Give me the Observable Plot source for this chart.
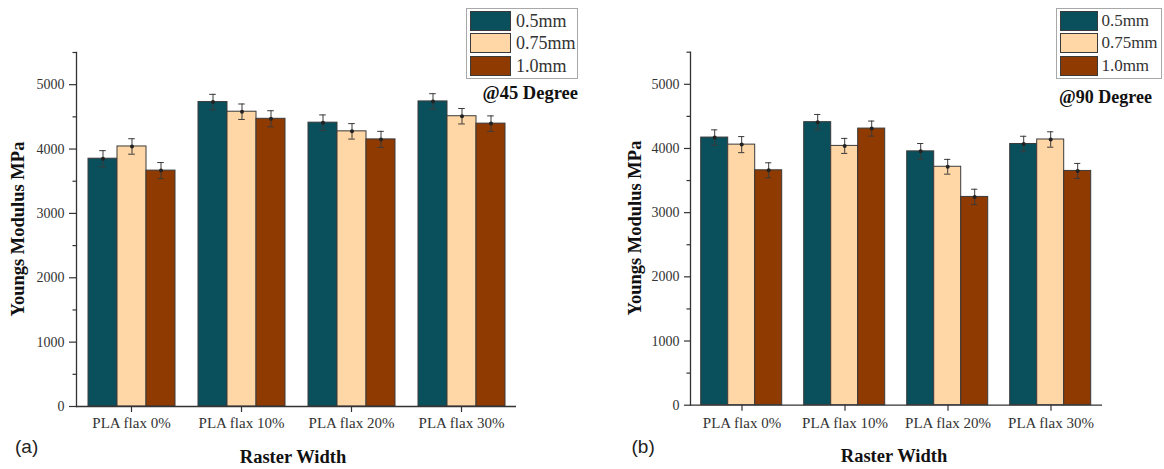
<!DOCTYPE html>
<html>
<head>
<meta charset="utf-8">
<script src="https://cdn.jsdelivr.net/npm/d3@7"></script>
<script src="https://cdn.jsdelivr.net/npm/@observablehq/plot@0.6"></script>
<style>
  body { margin: 0; background: #fff; }
  #root { position: relative; width: 1164px; height: 469px; overflow: hidden; font-family: "Liberation Serif", serif; color: #222; }
  .panel { position: absolute; top: 0; width: 582px; height: 469px; }
  .legend { position: absolute; top: 8px; height: 71px; box-sizing: border-box; border: 1px solid #a8a8a8; background: #fff; padding: 2px 0 0 3px; }
  .legend .row { display: flex; align-items: center; height: 20px; margin-bottom: 2.3px; }
  .legend .sw { height: 20px; box-sizing: border-box; border: 1px solid #3a3a3a; }
  .legend .lab { line-height: 20px; color: #333; }
  .note { position: absolute; font-weight: bold; line-height: 20px; white-space: nowrap; color: #111; }
  .ytitle { position: absolute; font-weight: bold; font-size: 18.5px; white-space: nowrap; transform: translate(-50%, -50%) rotate(-90deg); color: #111; }
  .xtitle { position: absolute; font-weight: bold; font-size: 18.5px; white-space: nowrap; transform: translate(-50%, -50%); color: #111; }
  .tag { position: absolute; font-family: "Liberation Sans", sans-serif; font-size: 19px; line-height: 20px; color: #222; transform: translateY(-50%); }
</style>
</head>
<body>
<div id="root"></div>
<script>
// Raster width groups and filament sizes
const groups = ["PLA flax 0%", "PLA flax 10%", "PLA flax 20%", "PLA flax 30%"];
const sizes = ["0.5mm", "0.75mm", "1.0mm"];
const colors = ["#0a4f5c", "#ffd6a5", "#8f3a00"];
const yTicks = [0, 1000, 2000, 3000, 4000, 5000];
const yMinorTicks = [500, 1500, 2500, 3500, 4500, 5500];

// Young's modulus (MPa) at 45 degrees: one row per group, one column per size
const modulus45 = [
  [3850, 4040, 3665],
  [4730, 4580, 4470],
  [4410, 4275, 4150],
  [4740, 4510, 4395]
];
const error45 = [
  [125, 120, 125],
  [120, 120, 125],
  [120, 120, 125],
  [120, 120, 120]
];

// Young's modulus (MPa) at 90 degrees
const modulus90 = [
  [4170, 4060, 3660],
  [4410, 4040, 4310],
  [3955, 3715, 3245],
  [4070, 4140, 3650]
];
const error90 = [
  [120, 125, 117],
  [120, 117, 117],
  [122, 115, 120],
  [120, 120, 117]
];

function toRows(values, errors) {
  return groups.flatMap((g, i) => sizes.map((s, j) => ({group: g, size: s, value: values[i][j], err: errors[i][j]})));
}

function panelChart(rows, o) {
  const ink = "#333";
  return Plot.plot({
    width: 582,
    height: 469,
    marginLeft: o.marginLeft,
    marginRight: o.marginRight,
    marginTop: o.marginTop,
    marginBottom: o.marginBottom,
    style: {fontFamily: '"Liberation Serif", serif', fontSize: "14px", color: ink, background: "transparent", overflow: "visible"},
    fx: {domain: groups, padding: 0, label: null},
    x: {domain: sizes, paddingInner: 0, paddingOuter: o.paddingOuter, axis: null},
    y: {domain: [0, 5500], label: null},
    color: {domain: sizes, range: colors},
    marks: [
      Plot.barY(rows, {fx: "group", x: "size", y: "value", fill: "size", stroke: "#3a3a3a", strokeWidth: 1}),
      Plot.ruleX(rows, {fx: "group", x: "size", y1: d => d.value - d.err, y2: d => d.value + d.err, stroke: "#3a3a3a", strokeWidth: 1}),
      Plot.tickY(rows, {fx: "group", x: "size", y: d => d.value + d.err, insetLeft: o.capInset, insetRight: o.capInset, stroke: "#3a3a3a", strokeWidth: 1}),
      Plot.tickY(rows, {fx: "group", x: "size", y: d => d.value - d.err, insetLeft: o.capInset, insetRight: o.capInset, stroke: "#3a3a3a", strokeWidth: 1}),
      Plot.dot(rows, {fx: "group", x: "size", y: "value", r: 2, fill: "#222"}),
      Plot.ruleY([0], {stroke: ink, strokeWidth: 1.3}),
      Plot.frame({anchor: "left", facet: "super", stroke: ink, strokeWidth: 1.3}),
      Plot.axisY({ticks: yTicks, tickFormat: "d", tickSize: o.tickSize, tickPadding: 5, label: null, stroke: ink, strokeWidth: 1.2}),
      Plot.axisY({ticks: yMinorTicks, tickSize: 3.5, tickFormat: () => "", label: null, stroke: ink, strokeWidth: 1.2}),
      Plot.axisFx({anchor: "bottom", tickSize: 6, tickPadding: o.xPadding, label: null, fontSize: 15, stroke: ink, strokeWidth: 1.2})
    ]
  });
}

function legend(left, width, swatchWidth, fontSize, gap) {
  const box = document.createElement("div");
  box.className = "legend";
  box.style.left = left + "px";
  box.style.width = width + "px";
  sizes.forEach((s, i) => {
    const row = document.createElement("div");
    row.className = "row";
    const sw = document.createElement("div");
    sw.className = "sw";
    sw.style.width = swatchWidth + "px";
    sw.style.background = colors[i];
    const lab = document.createElement("div");
    lab.className = "lab";
    lab.style.fontSize = fontSize + "px";
    lab.style.marginLeft = gap + "px";
    lab.textContent = s;
    row.append(sw, lab);
    box.append(row);
  });
  return box;
}

function addText(cls, text, css) {
  const el = document.createElement("div");
  el.className = cls;
  el.textContent = text;
  Object.assign(el.style, css);
  root.append(el);
}

const root = document.getElementById("root");

// Panel (a): 45 degree build orientation
const left = document.createElement("div");
left.className = "panel";
left.style.left = "0px";
left.append(panelChart(toRows(modulus45, error45), {
  marginLeft: 76, marginRight: 66, marginTop: 52, marginBottom: 63,
  paddingOuter: 0.365, capInset: 11.2, tickSize: 7, xPadding: 5
}));
root.append(left);

// Panel (b): 90 degree build orientation
const right = document.createElement("div");
right.className = "panel";
right.style.left = "582px";
right.append(panelChart(toRows(modulus90, error90), {
  marginLeft: 107.3, marginRight: 61.4, marginTop: 51.7, marginBottom: 64.3,
  paddingOuter: 0.358, capInset: 10.4, tickSize: 6, xPadding: 6
}));
root.append(right);

root.append(legend(466, 112, 41, 18, 5));
root.append(legend(1056, 106, 38, 17, 3.4));

addText("note", "@45 Degree", {right: (1164 - 578) + "px", top: "83px", fontSize: "18.5px"});
addText("note", "@90 Degree", {left: "1059px", top: "86.5px", fontSize: "18px"});

addText("ytitle", "Youngs Modulus MPa", {left: "18px", top: "229px"});
addText("ytitle", "Youngs Modulus MPa", {left: "635px", top: "227.5px"});
addText("xtitle", "Raster Width", {left: "293px", top: "456.5px"});
addText("xtitle", "Raster Width", {left: "894px", top: "456px"});

addText("tag", "(a)", {left: "15px", top: "447px"});
addText("tag", "(b)", {left: "631.5px", top: "447px"});
</script>
</body>
</html>
